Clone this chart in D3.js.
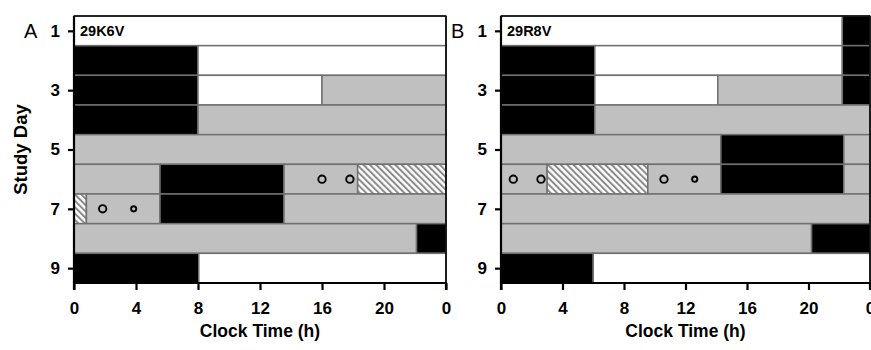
<!DOCTYPE html>
<html><head><meta charset="utf-8">
<script src="https://cdn.jsdelivr.net/npm/d3@7"></script>
<style>body{margin:0;background:#fff}svg{display:block}text{font-family:"Liberation Sans",Arial,sans-serif}</style>
</head><body><svg id="c" width="871" height="350"></svg>
<script>
// Segments: [studyDay, startHour, endHour, state]
const segmentsA = [
  [1,0,24,"white"],
  [2,0,8,"black"],[2,8,24,"white"],
  [3,0,8,"black"],[3,8,16,"white"],[3,16,24,"gray"],
  [4,0,8,"black"],[4,8,24,"gray"],
  [5,0,24,"gray"],
  [6,0,5.55,"gray"],[6,5.55,13.55,"black"],[6,13.55,18.3,"gray"],[6,18.3,24,"hatch"],
  [7,0,0.8,"hatch"],[7,0.8,5.55,"gray"],[7,5.55,13.55,"black"],[7,13.55,24,"gray"],
  [8,0,22.1,"gray"],[8,22.1,24,"black"],
  [9,0,8.05,"black"],[9,8.05,24,"white"]
];
const segmentsB = [
  [1,0,22.2,"white"],[1,22.2,24,"black"],
  [2,0,6.1,"black"],[2,6.1,22.2,"white"],[2,22.2,24,"black"],
  [3,0,6.1,"black"],[3,6.1,14.1,"white"],[3,14.1,22.2,"gray"],[3,22.2,24,"black"],
  [4,0,6.1,"black"],[4,6.1,24,"gray"],
  [5,0,14.3,"gray"],[5,14.3,22.3,"black"],[5,22.3,24,"gray"],
  [6,0,3.0,"gray"],[6,3.0,9.55,"hatch"],[6,9.55,14.3,"gray"],[6,14.3,22.3,"black"],[6,22.3,24,"gray"],
  [7,0,24,"gray"],
  [8,0,20.2,"gray"],[8,20.2,24,"black"],
  [9,0,6.0,"black"],[9,6.0,24,"white"]
];
// Circles: [studyDay, hour, size]
const circlesA = [[6,16.0,"large"],[6,17.8,"large"],[7,1.85,"large"],[7,3.85,"small"]];
const circlesB = [[6,0.8,"large"],[6,2.6,"large"],[6,10.6,"large"],[6,12.6,"small"]];
const dayTicks = [1,3,5,7,9];
const hourTicks = [0,4,8,12,16,20,24];
const hourLabels = ["0","4","8","12","16","20","0"];
const panels = [
  {letter:"A", subject:"29K6V", segs:segmentsA, circles:circlesA, x0:74, x1:446, letterX:24},
  {letter:"B", subject:"29R8V", segs:segmentsB, circles:circlesB, x0:501, x1:870, letterX:451}
];

const svg = d3.select("#c");
const defs = svg.append("defs");
const pat = defs.append("pattern").attr("id","hatch").attr("patternUnits","userSpaceOnUse")
  .attr("width",4.5).attr("height",4.5).attr("patternTransform","rotate(-45)");
pat.append("rect").attr("width",4.5).attr("height",4.5).attr("fill","#fff");
pat.append("rect").attr("x",0).attr("width",2).attr("height",4.5).attr("fill","#8a8a8a");

const fills = {white:"#ffffff", black:"#000000", gray:"#c0c0c0", hatch:"url(#hatch)"};
const y = d3.scaleLinear().domain([0.5,9.5]).range([16,283]);
const rowH = y(1.5)-y(0.5);

panels.forEach(p => {
  const x = d3.scaleLinear().domain([0,24]).range([p.x0,p.x1]);
  const g = svg.append("g");
  g.selectAll("rect.seg").data(p.segs).join("rect").attr("class","seg")
    .attr("x",d=>x(d[1])).attr("y",d=>y(d[0]-0.5))
    .attr("width",d=>x(d[2])-x(d[1])).attr("height",rowH)
    .attr("fill",d=>fills[d[3]]).attr("stroke","#707070").attr("stroke-width",1.5);
  g.selectAll("circle").data(p.circles).join("circle")
    .attr("cx",d=>x(d[1])).attr("cy",d=>y(d[0]))
    .attr("r",d=>d[2]==="large"?3.7:2.6)
    .attr("fill","none").attr("stroke","#000").attr("stroke-width",1.9);
  // frame
  g.append("line").attr("x1",p.x0).attr("x2",p.x1).attr("y1",y(0.5)).attr("y2",y(0.5)).attr("stroke","#000").attr("stroke-width",1.6);
  g.append("line").attr("x1",p.x1).attr("x2",p.x1).attr("y1",y(0.5)).attr("y2",y(9.5)).attr("stroke","#000").attr("stroke-width",1.6);
  // axes
  const ya = d3.axisLeft(y).tickValues(dayTicks).tickSize(6).tickPadding(8).tickFormat(d3.format("d"));
  const yg = g.append("g").attr("transform",`translate(${p.x0},0)`).call(ya);
  const xa = d3.axisBottom(x).tickValues(hourTicks).tickSize(7).tickPadding(12).tickFormat((d,i)=>hourLabels[i]);
  const xg = g.append("g").attr("transform",`translate(0,${y(9.5)})`).call(xa);
  [yg,xg].forEach(a=>{
    a.select(".domain").attr("stroke","#000").attr("stroke-width",2.2);
    a.selectAll(".tick line").attr("stroke","#000").attr("stroke-width",2.2);
    a.selectAll(".tick text").attr("font-size",17).attr("font-weight","bold").attr("fill","#000")
      .attr("font-family","'Liberation Sans',Arial,sans-serif");
  });
  xg.select(".domain").attr("d",`M${p.x0},7V0H${p.x1}V7`);
  yg.select(".domain").attr("d",`M0,${y(0.5)}V${y(9.5)}`);
  g.append("text").attr("x",p.letterX).attr("y",y(1)+7).attr("font-size",20).text(p.letter);
  g.append("text").attr("x",p.x0+6).attr("y",y(1)+5.5).attr("font-size",14.5).attr("font-weight","bold").text(p.subject);
  g.append("text").attr("x",(p.x0+p.x1)/2).attr("y",337).attr("text-anchor","middle")
    .attr("font-size",17.5).attr("font-weight","bold").text("Clock Time (h)");
});
svg.append("text").attr("transform",`translate(27,${(y(0.5)+y(9.5))/2}) rotate(-90)`)
  .attr("text-anchor","middle").attr("font-size",18.5).attr("font-weight","bold").text("Study Day");
</script></body></html>
